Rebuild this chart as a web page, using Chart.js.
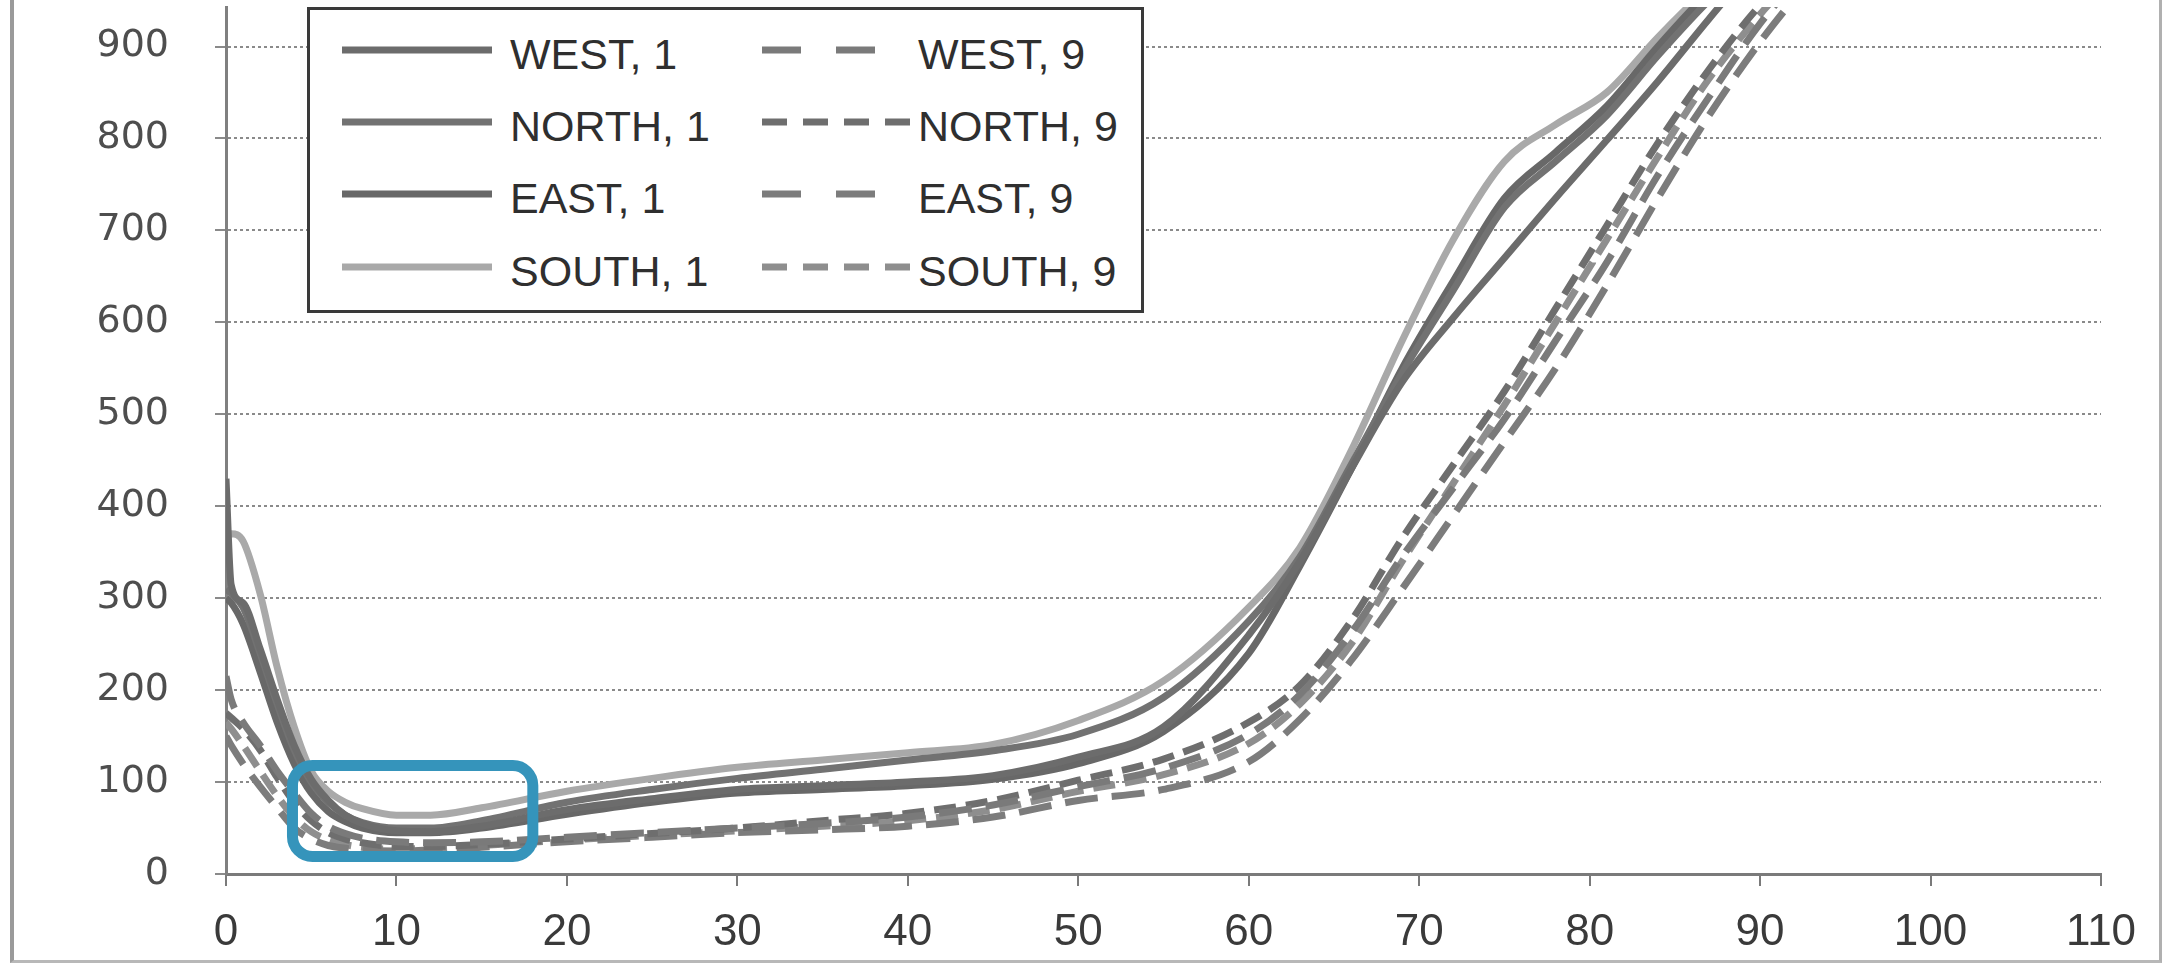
<!DOCTYPE html>
<html>
<head>
<meta charset="utf-8">
<script src="https://cdn.jsdelivr.net/npm/chart.js@4.4.1/dist/chart.umd.min.js"></script>
<style>
    html, body { margin: 0; padding: 0; background: #fff; }
    #wrap { position: relative; width: 2172px; height: 967px; overflow: hidden; }
    #frame {
        position: absolute; left: 10px; top: -5px; width: 2152px; height: 968px;
        border-left: 4px solid #9a9a9a; border-right: 3px solid #b0b0b0; border-bottom: 3px solid #b8b8b8;
        box-sizing: border-box; pointer-events: none;
    }
    #legend {
        position: absolute; left: 307px; top: 7px; width: 837px; height: 306px;
        border: 3px solid #3a3a3a; background: #fff; box-sizing: border-box;
    }
    .item { position: absolute; height: 40px; }
    .item svg { position: absolute; top: 15px; }
    .item span {
        position: absolute; top: 0; line-height: 40px; white-space: nowrap;
        font: 43px "Liberation Sans Narrow", "Liberation Sans", Arial, sans-serif; color: #2f2f2f;
    }
</style>
</head>
<body>
<div id="wrap">
    <canvas id="myChart" width="2172" height="967"></canvas>
    <div id="legend"></div>
    <div id="frame"></div>
</div>
<script>
// x positions shared by every series
const xValues = [0, 0.3, 1, 2, 3, 4, 5, 6, 7, 8, 10, 12, 15, 20, 25, 30, 35, 40, 45, 50, 55, 60, 63, 66, 69, 72, 75, 78, 81, 84, 87, 90, 93];

// solid lines (", 1")
const west1  = [430, 315, 295, 245, 190, 140, 103, 80, 64, 55, 47, 46, 52, 70, 82, 92, 96, 100, 107, 127, 160, 260, 340, 440, 535, 605, 670, 735, 798, 862, 930, 995, 1050];
const north1 = [310, 305, 290, 240, 185, 135, 100, 78, 64, 56, 50, 50, 58, 78, 92, 104, 114, 124, 134, 152, 192, 275, 345, 445, 545, 635, 725, 775, 825, 890, 950, 1000, 1050];
const east1  = [300, 295, 272, 220, 165, 120, 88, 68, 57, 50, 45, 45, 50, 65, 78, 88, 92, 96, 103, 120, 155, 240, 335, 440, 550, 645, 735, 785, 835, 900, 960, 1010, 1060];
const south1 = [365, 370, 362, 305, 225, 160, 112, 90, 78, 71, 64, 64, 72, 90, 104, 116, 124, 132, 141, 167, 210, 290, 355, 460, 580, 690, 775, 815, 850, 910, 965, 1015, 1070];

// dashed lines (", 9")
const west9  = [215, 190, 165, 140, 112, 88, 66, 52, 44, 39, 35, 34, 35, 40, 45, 50, 55, 62, 75, 95, 115, 152, 195, 262, 345, 420, 495, 580, 665, 760, 845, 925, 990];
const north9 = [175, 170, 158, 135, 105, 78, 58, 45, 38, 34, 30, 30, 32, 38, 44, 50, 58, 66, 80, 102, 125, 165, 205, 275, 365, 445, 525, 615, 705, 795, 875, 945, 1000];
const east9  = [150, 140, 120, 95, 72, 50, 38, 31, 28, 26, 25, 26, 29, 35, 40, 45, 48, 52, 62, 80, 92, 122, 168, 232, 310, 390, 470, 550, 640, 735, 825, 905, 975];
const south9 = [165, 158, 140, 112, 85, 62, 46, 37, 32, 29, 27, 28, 31, 37, 42, 47, 52, 58, 70, 90, 108, 142, 185, 250, 340, 425, 510, 600, 690, 780, 865, 935, 995];

const seriesLabels = ['WEST, 1', 'NORTH, 1', 'EAST, 1', 'SOUTH, 1', 'WEST, 9', 'NORTH, 9', 'EAST, 9', 'SOUTH, 9'];
const seriesValues = [west1, north1, east1, south1, west9, north9, east9, south9];

// axis ranges and tick values
const xMin = 0, xMax = 110, xStep = 10;
const yMin = 0, yMax = 943;
const yTicks = [0, 100, 200, 300, 400, 500, 600, 700, 800, 900];

// the blue highlight box, in data units
const boxX = [3.9, 18.0];
const boxY = [19, 118];

const seriesStyles = [
    {color: '#6c6c6c', dash: [], legendDash: null},
    {color: '#727272', dash: [], legendDash: null},
    {color: '#686868', dash: [], legendDash: null},
    {color: '#a9a9a9', dash: [], legendDash: null},
    {color: '#7a7a7a', dash: [33, 14], legendDash: '39 35'},
    {color: '#6e6e6e', dash: [22, 10], legendDash: '25 16'},
    {color: '#7c7c7c', dash: [33, 14], legendDash: '39 35'},
    {color: '#8e8e8e', dash: [22, 10], legendDash: '25 16'}
];

const datasets = seriesValues.map((values, i) => ({
    label: seriesLabels[i],
    data: values.map((v, j) => ({x: xValues[j], y: v})),
    borderColor: seriesStyles[i].color,
    borderDash: seriesStyles[i].dash,
    borderWidth: 7,
    pointRadius: 0,
    fill: false,
    cubicInterpolationMode: 'monotone'
}));

// Highlight rectangle drawn through the scales
const highlightBox = {
    id: 'highlightBox',
    afterDatasetsDraw(chart) {
        const {ctx, scales} = chart;
        const left = scales.x.getPixelForValue(boxX[0]);
        const right = scales.x.getPixelForValue(boxX[1]);
        const top = scales.y.getPixelForValue(boxY[1]);
        const bottom = scales.y.getPixelForValue(boxY[0]);
        ctx.save();
        ctx.strokeStyle = '#3594bb';
        ctx.lineWidth = 11;
        ctx.beginPath();
        ctx.roundRect(left, top, right - left, bottom - top, 20);
        ctx.stroke();
        ctx.restore();
    }
};

const chart = new Chart(document.getElementById('myChart'), {
    type: 'line',
    data: {datasets: datasets},
    options: {
        responsive: false,
        animation: false,
        devicePixelRatio: 1,
        layout: {padding: {top: 7, right: 71, left: 0, bottom: 0}},
        scales: {
            x: {
                type: 'linear',
                min: xMin,
                max: xMax,
                afterFit: scale => {
                    scale.height = 93;
                    scale.paddingLeft = 0;
                    scale.paddingRight = 0;
                },
                ticks: {
                    stepSize: xStep,
                    autoSkip: false,
                    maxRotation: 0,
                    padding: 20,
                    color: '#3a3a3a',
                    font: {family: '"Liberation Sans", Arial, sans-serif', size: 44}
                },
                grid: {drawOnChartArea: false, drawTicks: true, tickLength: 12, color: '#7a7a7a', lineWidth: 2},
                border: {display: true, color: '#7a7a7a', width: 3, dash: [3, 2]}
            },
            y: {
                min: yMin,
                max: yMax,
                afterFit: scale => {
                    // keep the plot area pinned: labels sit in the fixed left margin
                    scale.width = 226;
                    scale.paddingTop = 0;
                    scale.paddingBottom = 0;
                },
                afterBuildTicks: scale => {
                    scale.ticks = yTicks.map(v => ({value: v}));
                },
                ticks: {
                    padding: 46,
                    color: '#4e4e4e',
                    font: {family: '"DejaVu Sans", sans-serif', size: 38}
                },
                grid: {color: '#8a8a8a', lineWidth: 2, tickLength: 11},
                border: {display: true, color: '#808080', width: 3, dash: [3, 3]}
            }
        },
        plugins: {
            legend: {display: false},
            tooltip: {enabled: false}
        }
    },
    plugins: [highlightBox]
});

// Two column legend box, built from the chart's datasets
const legendEl = document.getElementById('legend');
const rowTops = [20, 92, 164, 237];
chart.data.datasets.forEach((ds, i) => {
    const col = i < 4 ? 0 : 1;
    const row = i % 4;
    const style = seriesStyles[i];
    const sampleLeft = col === 0 ? 32 : 452;
    const textLeft = col === 0 ? 200 : 608;
    const sampleLen = style.legendDash === '39 35' ? 113 : 150;
    const item = document.createElement('div');
    item.className = 'item';
    item.style.left = '0px';
    item.style.top = rowTops[row] + 'px';
    item.innerHTML =
        `<svg width="${sampleLen}" height="10" style="left:${sampleLeft}px">` +
        `<line x1="0" y1="5" x2="${sampleLen}" y2="5" stroke="${ds.borderColor}" stroke-width="7"` +
        (style.legendDash ? ` stroke-dasharray="${style.legendDash}"` : '') + `/></svg>` +
        `<span style="left:${textLeft}px">${ds.label}</span>`;
    legendEl.appendChild(item);
});
</script>
</body>
</html>
